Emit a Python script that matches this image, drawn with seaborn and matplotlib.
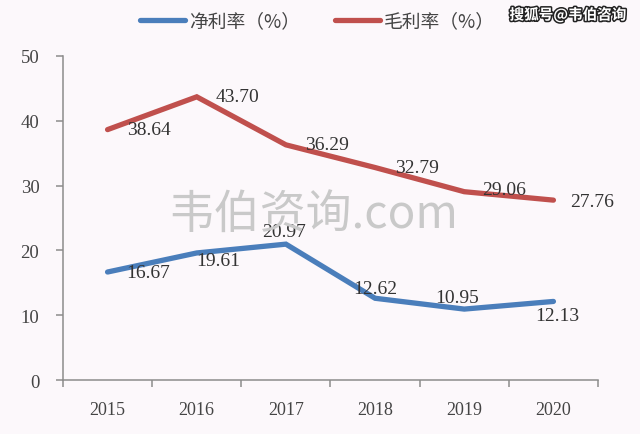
"""
plot.py
=======
Net margin vs gross margin, 2015-2020 (line chart, seaborn).
"""

import pandas as pd
import matplotlib
matplotlib.use("Agg")
import matplotlib.pyplot as plt
import matplotlib.patheffects as pe
import seaborn as sns

# ─────────────────────────────────────────────
# DATA
# ─────────────────────────────────────────────
years      = ["2015", "2016", "2017", "2018", "2019", "2020"]
net_margin = [16.67, 19.61, 20.97, 12.62, 10.95, 12.13]
gross_margin = [38.64, 43.70, 36.29, 32.79, 29.06, 27.76]
series_names = ["净利率（%）", "毛利率（%）"]
y_ticks    = [0, 10, 20, 30, 40, 50]

# label offsets (pixels) – placement only
net_offsets   = [(41, 0), (21, -8), (-2, 13), (0, 10), (-7, 12), (4, -14)]
gross_offsets = [(41, 0), (41, 0), (41, 0), (42, 0), (40, 2), (39, -1)]

BG     = "#fcf8fb"
BLUE   = "#4a7ebb"
RED    = "#c0504d"
SERIF  = ["Liberation Serif", "DejaVu Serif"]
CJK    = ["Noto Sans CJK SC", "DejaVu Sans"]

df = pd.DataFrame({
    "year":   years * 2,
    "value":  net_margin + gross_margin,
    "series": [series_names[0]] * len(years) + [series_names[1]] * len(years),
})

# ─────────────────────────────────────────────
# PLOT
# ─────────────────────────────────────────────
sns.set_style("white")
plt.rcParams["font.family"] = CJK

fig = plt.figure(figsize=(6.4, 4.35), dpi=100, facecolor=BG)
ax = fig.add_axes([0.0984, 0.124, 0.836, 0.745], facecolor=BG)

# background watermark
fig.text(0.489, 0.505, "韦伯资询.com", fontsize=33, color="#c9c9c9",
         ha="center", va="center", family=CJK, zorder=0)

sns.lineplot(data=df, x="year", y="value", hue="series",
             palette=[BLUE, RED], linewidth=3.8, ax=ax, legend=False,
             solid_capstyle="round", solid_joinstyle="miter", zorder=3)

for vals, offs in [(net_margin, net_offsets), (gross_margin, gross_offsets)]:
    for i, (v, off) in enumerate(zip(vals, offs)):
        ax.annotate(f"{v:.2f}", (i, v), xytext=off, textcoords="offset pixels",
                    ha="center", va="center", fontsize=14, color="#333333",
                    family=SERIF, zorder=4)

# axes
ax.set_xlim(-0.5, len(years) - 0.5)
ax.set_ylim(0, 50)
ax.set_yticks(y_ticks)
ax.set_yticklabels([str(t) for t in y_ticks], family=SERIF, fontsize=13.5, color="#444444")
ax.set_xticks([i - 0.5 for i in range(len(years) + 1)])
ax.set_xticklabels([])
ax.set_xticks(range(len(years)), minor=True)
ax.set_xticklabels(years, minor=True, family=SERIF, fontsize=13, color="#444444")
ax.tick_params(axis="x", which="major", length=5, width=1.1, color="#8c8c8c", direction="out", bottom=True)
ax.tick_params(axis="x", which="minor", length=0, pad=15, bottom=True)
ax.tick_params(axis="y", length=5, width=1.1, color="#8c8c8c", direction="out", pad=12, left=True)
ax.set_xlabel("")
ax.set_ylabel("")
for side in ["top", "right"]:
    ax.spines[side].set_visible(False)
for side in ["left", "bottom"]:
    ax.spines[side].set_color("#8c8c8c")
    ax.spines[side].set_linewidth(1.1)

# legend
handles = [plt.Line2D([], [], color=c, linewidth=3.8, solid_capstyle="round") for c in (BLUE, RED)]
fig.legend(handles, series_names, loc="center", bbox_to_anchor=(0.496, 0.949), ncol=2,
           frameon=False, fontsize=13.5, handlelength=2.4, handletextpad=0.2,
           columnspacing=1.9, labelcolor="#444444")

# platform watermark
fig.text(0.979, 0.963, "搜狐号@韦伯咨询", fontsize=10.5, color="white", weight="bold",
         ha="right", va="center", family=CJK,
         path_effects=[pe.withStroke(linewidth=2.2, foreground="#222222")])

fig.savefig("out.png", dpi=100, facecolor=BG)
